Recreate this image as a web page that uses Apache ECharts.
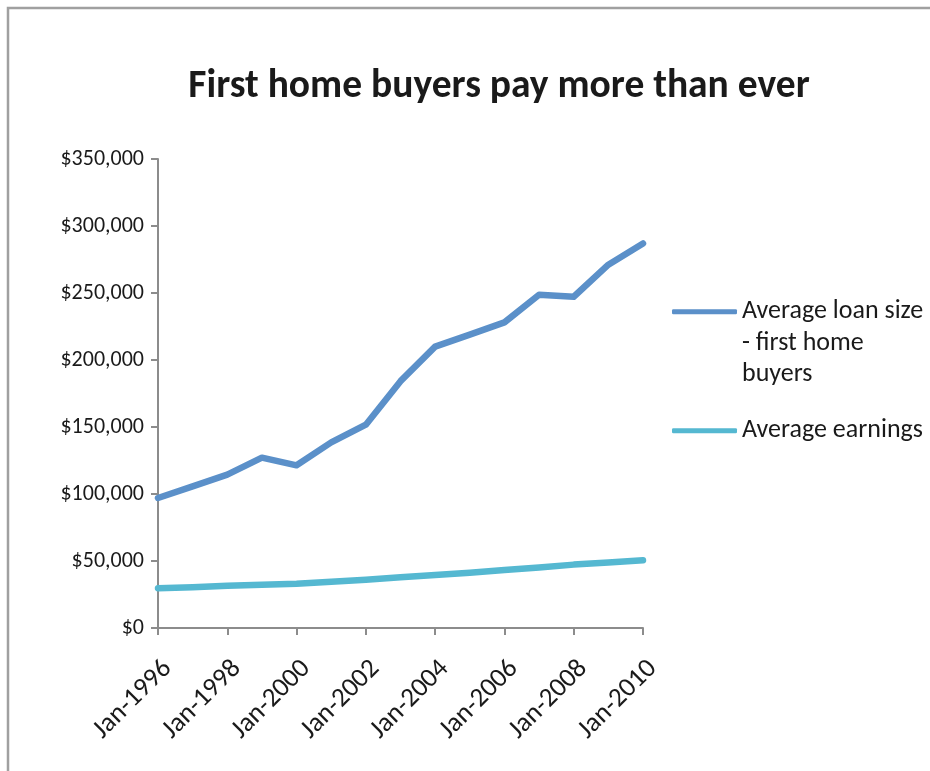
<!DOCTYPE html>
<html>
<head>
<meta charset="utf-8">
<script src="https://cdn.jsdelivr.net/npm/echarts@6/dist/echarts.min.js"></script>
<style>
html,body{margin:0;padding:0;background:#fff;}
#chart{width:930px;height:771px;}
</style>
</head>
<body>
<div id="chart"></div>
<script>
var categories = ['Jan-1996','Jan-1997','Jan-1998','Jan-1999','Jan-2000','Jan-2001','Jan-2002','Jan-2003','Jan-2004','Jan-2005','Jan-2006','Jan-2007','Jan-2008','Jan-2009','Jan-2010'];
var loanSize = [97000, 105700, 114400, 127100, 121400, 138500, 151700, 184200, 210000, 218900, 228100, 248700, 247200, 271100, 287000];
var earnings = [29700, 30500, 31500, 32200, 33000, 34500, 36000, 37800, 39500, 41200, 43200, 45200, 47300, 48800, 50600];
var seriesNames = ['Average loan size - first home buyers', 'Average earnings'];
var legendLabels = ['\n\nAverage loan size\n- first home\nbuyers', 'Average earnings'];

var FONT = 'Carlito, Lato, "Open Sans", sans-serif';
var chart = echarts.init(document.getElementById('chart'));
chart.setOption({
  animation: false,
  backgroundColor: '#fff',
  title: {
    text: 'First home buyers pay more than ever',
    left: 494,
    textAlign: 'center',
    top: 62,
    textStyle: {fontFamily: FONT, fontWeight: 'bold', fontSize: 39.5, color: '#1a1a1a'}
  },
  graphic: [{
    type: 'rect',
    shape: {x: 8, y: 8, width: 960, height: 800},
    style: {fill: 'none', stroke: '#a0a0a0', lineWidth: 2.5},
    silent: true,
    z: -10
  }],
  legend: [{
    orient: 'vertical',
    left: 672,
    top: 233,
    padding: 0,
    itemWidth: 65,
    itemHeight: 5,
    icon: 'roundRect',
    data: [seriesNames[0]],
    formatter: function () { return legendLabels[0]; },
    textStyle: {fontFamily: FONT, fontSize: 26, color: '#1a1a1a', lineHeight: 31.5}
  }, {
    orient: 'vertical',
    left: 672,
    top: 415,
    padding: 0,
    itemWidth: 65,
    itemHeight: 5,
    icon: 'roundRect',
    data: [seriesNames[1]],
    formatter: function () { return legendLabels[1]; },
    textStyle: {fontFamily: FONT, fontSize: 26, color: '#1a1a1a', lineHeight: 31.5}
  }],
  grid: {left: 158, right: 287, top: 159, bottom: 143},
  xAxis: {
    type: 'category',
    data: categories,
    boundaryGap: false,
    axisLine: {lineStyle: {color: '#8c8c8c', width: 2}},
    axisTick: {interval: 1, length: 7, lineStyle: {color: '#8c8c8c', width: 2}},
    axisLabel: {interval: 1, rotate: 45, margin: 27, verticalAlign: 'top', fontFamily: FONT, fontSize: 27, color: '#1a1a1a'}
  },
  yAxis: {
    type: 'value',
    min: 0,
    max: 350000,
    interval: 50000,
    splitLine: {show: false},
    axisLine: {show: true, lineStyle: {color: '#8c8c8c', width: 2}},
    axisTick: {show: true, length: 7, lineStyle: {color: '#8c8c8c', width: 2}},
    axisLabel: {
      margin: 14,
      fontFamily: FONT, fontSize: 22, color: '#1a1a1a',
      formatter: function (v) { return '$' + v.toLocaleString('en-US'); }
    }
  },
  series: [{
    name: seriesNames[0],
    type: 'line',
    data: loanSize,
    symbol: 'none',
    color: '#5b90c9',
    lineStyle: {width: 6.5, color: '#5b90c9', cap: 'round', join: 'round'}
  }, {
    name: seriesNames[1],
    type: 'line',
    data: earnings,
    symbol: 'none',
    color: '#55b8d1',
    lineStyle: {width: 6.5, color: '#55b8d1', cap: 'round', join: 'round'}
  }]
});
</script>
</body>
</html>
